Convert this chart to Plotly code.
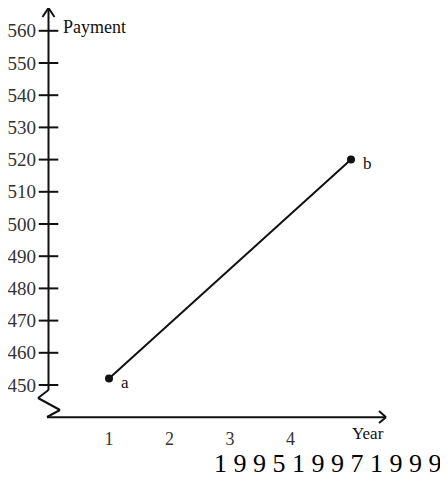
import plotly.graph_objects as go

# ---- data ----
years = [1, 5]
payments = [452, 520]
point_labels = ["a", "b"]
y_ticks = [450, 460, 470, 480, 490, 500, 510, 520, 530, 540, 550, 560]
x_ticks = [1, 2, 3, 4, 5]
x_tick_text = ["1", "2", "3", "4", ""]
x_axis_title = "Year"
y_axis_title = "Payment"
footer_text = "1 9 9 5 1 9 9 7 1 9 9 9"

# ---- layout geometry (pixels in the final page; page body has an 8px margin) ----
OFF = 8
W, H = 448 - OFF, 483 - OFF
L = 48 - OFF
AXIS_PX = 417 - OFF
B = H - AXIS_PX
X1PX, PPX = 109.0 - OFF, 60.5
Y450PX, PPY = 385.0 - OFF, 3.22
X_AXIS_Y = 440
Y_AXIS_X = 0

def x_of(px):  # page pixel -> data x
    return 1 + (px - OFF - X1PX) / PPX

def y_of(py):  # page pixel -> data y
    return 450 + (Y450PX - (py - OFF)) / PPY

xr = [x_of(L + OFF), x_of(W + OFF)]
yr = [y_of(AXIS_PX + OFF), y_of(OFF)]

def xp(x):
    return (x - xr[0]) / (xr[1] - xr[0])

def yp(y):
    return (y - yr[0]) / (yr[1] - yr[0])

ink = "#111111"
font_family = "Liberation Serif, Times New Roman, serif"

fig = go.Figure()

fig.add_trace(go.Scatter(
    x=[Y_AXIS_X] * len(y_ticks), y=y_ticks, mode="markers",
    marker=dict(symbol="line-ew", size=14, line=dict(width=2, color=ink)),
    cliponaxis=False, hoverinfo="skip", showlegend=False))
fig.add_trace(go.Scatter(
    x=x_ticks, y=[X_AXIS_Y] * len(x_ticks), mode="markers",
    marker=dict(symbol="line-ns", size=14, line=dict(width=2, color=ink)),
    cliponaxis=False, hoverinfo="skip", showlegend=False))

fig.add_trace(go.Scatter(
    x=years, y=payments, mode="lines+markers",
    line=dict(color=ink, width=2),
    marker=dict(size=8, color=ink),
    cliponaxis=False, showlegend=False))

shapes = []
def seg(x0, y0, x1, y1, w=2):
    shapes.append(dict(type="line", xref="paper", yref="paper",
                       x0=xp(x0), y0=yp(y0), x1=xp(x1), y1=yp(y1),
                       line=dict(color=ink, width=w)))

y_top = y_of(8)
seg(Y_AXIS_X, y_of(390), Y_AXIS_X, y_top)
seg(Y_AXIS_X, y_top, x_of(48.5 - 6), y_of(17))
seg(Y_AXIS_X, y_top, x_of(48.5 + 6), y_of(17))
zz = [(48.5, 390), (38, 398), (60, 410), (47, 417)]
for (a, b), (c, d) in zip(zz[:-1], zz[1:]):
    seg(x_of(a), y_of(b), x_of(c), y_of(d))
x_end = x_of(386)
seg(x_of(47), X_AXIS_Y, x_end, X_AXIS_Y)
seg(x_end, X_AXIS_Y, x_of(379), y_of(417 - 6))
seg(x_end, X_AXIS_Y, x_of(379), y_of(417 + 6))

annotations = []
for xv, yv, t in zip(years, payments, point_labels):
    annotations.append(dict(x=xv, y=yv, text=t, showarrow=False,
                            xanchor="left", yanchor="middle", xshift=10, yshift=-4,
                            font=dict(family=font_family, size=17, color=ink)))
annotations.append(dict(xref="paper", yref="paper", x=xp(Y_AXIS_X), y=yp(y_of(27)),
                        text=y_axis_title, showarrow=False,
                        xanchor="left", yanchor="middle", xshift=12,
                        font=dict(family=font_family, size=18, color=ink)))
annotations.append(dict(xref="paper", yref="paper", x=xp(x_ticks[-1]), y=yp(y_of(434)),
                        text=x_axis_title, showarrow=False,
                        xanchor="left", yanchor="middle", xshift=-1,
                        font=dict(family=font_family, size=17, color=ink)))
annotations.append(dict(xref="paper", yref="paper", x=xp(x_of(212)), y=yp(y_of(463)),
                        text=footer_text, showarrow=False,
                        xanchor="left", yanchor="middle",
                        font=dict(family=font_family, size=26, color="#000000")))

fig.update_layout(
    width=W, height=H,
    margin=dict(l=L, r=0, t=0, b=B, pad=0),
    paper_bgcolor="white", plot_bgcolor="white",
    shapes=shapes, annotations=annotations,
    xaxis=dict(range=xr, tickvals=x_ticks, ticktext=x_tick_text,
               showgrid=False, zeroline=False, showline=False, ticks="",
               ticklabelstandoff=9,
               tickfont=dict(family=font_family, size=18, color="#333333")),
    yaxis=dict(range=yr, tickvals=y_ticks,
               showgrid=False, zeroline=False, showline=False, ticks="",
               ticklabelstandoff=11,
               tickfont=dict(family=font_family, size=19, color="#333333")),
)

fig.write_html("out.html")
